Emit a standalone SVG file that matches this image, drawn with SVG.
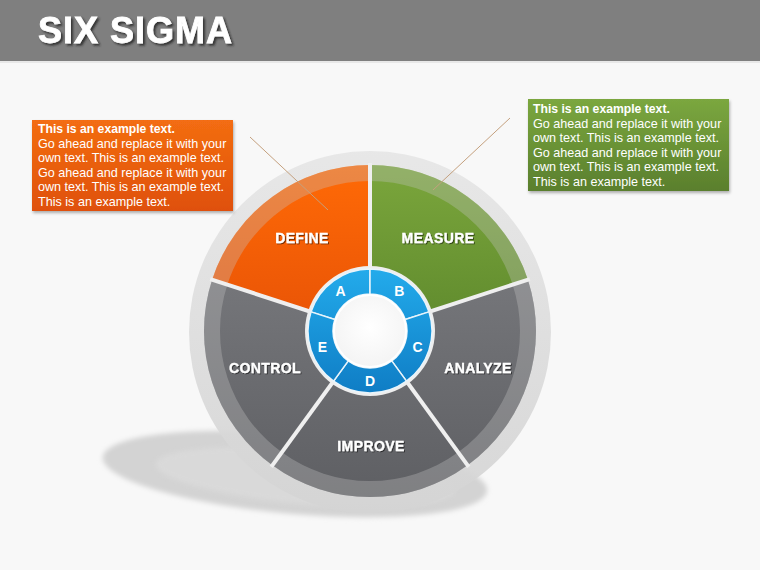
<svg xmlns="http://www.w3.org/2000/svg" width="760" height="570" viewBox="0 0 760 570">
<defs>
<style>
.title{font-family:"Liberation Sans",Arial,sans-serif;font-weight:bold;font-size:36px;fill:#fff;letter-spacing:1px;stroke:#fff;stroke-width:0.8}
.cb{font-family:"Liberation Sans",Arial,sans-serif;font-size:12.6px;fill:#fff}
.cb .b{font-weight:bold;font-size:12.2px}
.lbl{font-family:"Liberation Sans",Arial,sans-serif;font-weight:bold;font-size:14px;fill:#fff;text-anchor:middle;letter-spacing:0.4px;stroke:#fff;stroke-width:0.3}
.let{font-family:"Liberation Sans",Arial,sans-serif;font-weight:bold;font-size:14px;fill:#fff;text-anchor:middle}
.band{fill:#c8c8c8;fill-opacity:0.32}
.gap{stroke:#efefef;stroke-width:4;stroke-linecap:butt}
.hub{fill:url(#gBlue);stroke:#e8f4fb;stroke-width:1.5}
.lead{stroke:#c4a07e;stroke-width:1;fill:none}
</style>
<linearGradient id="gOrange" x1="0" y1="165" x2="0" y2="331" gradientUnits="userSpaceOnUse"><stop offset="0" stop-color="#ff6a06"/><stop offset="1" stop-color="#e85306"/></linearGradient>
<linearGradient id="gGreen" x1="0" y1="165" x2="0" y2="331" gradientUnits="userSpaceOnUse"><stop offset="0" stop-color="#7ba63c"/><stop offset="1" stop-color="#5f8a2d"/></linearGradient>
<linearGradient id="gGray" x1="0" y1="280" x2="0" y2="497" gradientUnits="userSpaceOnUse"><stop offset="0" stop-color="#75767a"/><stop offset="1" stop-color="#5e5f63"/></linearGradient>
<linearGradient id="gBlue" x1="0" y1="269" x2="0" y2="393" gradientUnits="userSpaceOnUse"><stop offset="0" stop-color="#23abeb"/><stop offset="1" stop-color="#0f7dc5"/></linearGradient>
<linearGradient id="gRing" x1="0" y1="151" x2="0" y2="513" gradientUnits="userSpaceOnUse"><stop offset="0" stop-color="#e6e6e6"/><stop offset="1" stop-color="#d4d4d4"/></linearGradient>
<linearGradient id="gBoxO" x1="0" y1="0" x2="0" y2="1"><stop offset="0" stop-color="#f36d12"/><stop offset="1" stop-color="#df500a"/></linearGradient>
<linearGradient id="gBoxG" x1="0" y1="0" x2="0" y2="1"><stop offset="0" stop-color="#7ba73f"/><stop offset="1" stop-color="#5a7f2d"/></linearGradient>
<radialGradient id="gHole" cx="0.5" cy="0.45" r="0.6"><stop offset="0" stop-color="#ffffff"/><stop offset="1" stop-color="#f3f3f3"/></radialGradient>
<filter id="ts" x="-10%" y="-30%" width="130%" height="160%"><feDropShadow dx="1" dy="1" stdDeviation="0.6" flood-color="#000" flood-opacity="0.55"/></filter>
<filter id="tts" x="-10%" y="-30%" width="130%" height="170%"><feDropShadow dx="2" dy="2" stdDeviation="1" flood-color="#222" flood-opacity="0.8"/></filter>
<filter id="bs" x="-10%" y="-10%" width="120%" height="130%"><feDropShadow dx="1" dy="2" stdDeviation="1.5" flood-color="#000" flood-opacity="0.3"/></filter>
<filter id="blur" x="-20%" y="-50%" width="140%" height="200%"><feGaussianBlur stdDeviation="2.5"/></filter>
</defs>

<rect width="760" height="570" fill="#f8f8f8"/>
<g id="title-bar">
<rect x="0" y="0" width="760" height="61" fill="#7f7f7f"/>
<rect x="0" y="61" width="760" height="2" fill="#e8e8e8"/>
<text class="title" x="38" y="43" filter="url(#tts)">SIX SIGMA</text>
</g>

<g id="shadow">
<ellipse cx="295" cy="474" rx="193" ry="40" transform="rotate(5 295 474)" fill="#d3d3d3" filter="url(#blur)"/>
<ellipse cx="305" cy="477" rx="150" ry="27" transform="rotate(5 305 477)" fill="#dedede" opacity="0.6" filter="url(#blur)"/>
</g>

<g id="outer-ring">
<circle cx="370" cy="332" r="181" fill="url(#gRing)" opacity="0.92"/>
</g>

<g id="seg-define">
<path d="M370,331 L212.12,279.70 A166,166 0 0 1 370,165 Z" fill="url(#gOrange)"/>
<path class="band" d="M212.12,279.70 A166,166 0 0 1 370,165 L370,181 A150,150 0 0 0 227.34,284.65 Z"/>
<text class="lbl" x="302" y="243" filter="url(#ts)">DEFINE</text>
</g>
<g id="seg-measure">
<path d="M370,331 L370,165 A166,166 0 0 1 527.88,279.70 Z" fill="url(#gGreen)"/>
<path class="band" d="M370,165 A166,166 0 0 1 527.88,279.70 L512.66,284.65 A150,150 0 0 0 370,181 Z"/>
<text class="lbl" x="438" y="243" filter="url(#ts)">MEASURE</text>
</g>
<g id="seg-analyze">
<path d="M370,331 L527.88,279.70 A166,166 0 0 1 467.57,465.30 Z" fill="url(#gGray)"/>
<path class="band" d="M527.88,279.70 A166,166 0 0 1 467.57,465.30 L458.17,452.35 A150,150 0 0 0 512.66,284.65 Z"/>
<text class="lbl" x="478" y="373" filter="url(#ts)">ANALYZE</text>
</g>
<g id="seg-improve">
<path d="M370,331 L467.57,465.30 A166,166 0 0 1 272.43,465.30 Z" fill="url(#gGray)"/>
<path class="band" d="M467.57,465.30 A166,166 0 0 1 272.43,465.30 L281.83,452.35 A150,150 0 0 0 458.17,452.35 Z"/>
<text class="lbl" x="371" y="451" filter="url(#ts)">IMPROVE</text>
</g>
<g id="seg-control">
<path d="M370,331 L272.43,465.30 A166,166 0 0 1 212.12,279.70 Z" fill="url(#gGray)"/>
<path class="band" d="M272.43,465.30 A166,166 0 0 1 212.12,279.70 L227.34,284.65 A150,150 0 0 0 281.83,452.35 Z"/>
<text class="lbl" x="265" y="373" filter="url(#ts)">CONTROL</text>
</g>

<g id="dividers">
<line class="gap" x1="370" y1="331" x2="370" y2="163"/>
<line class="gap" x1="370" y1="331" x2="529.78" y2="279.08"/>
<line class="gap" x1="370" y1="331" x2="468.75" y2="466.92"/>
<line class="gap" x1="370" y1="331" x2="271.25" y2="466.92"/>
<line class="gap" x1="370" y1="331" x2="210.22" y2="279.08"/>
</g>

<g id="hub-border">
<circle cx="370" cy="331" r="65" fill="#eeeeee"/>
</g>
<g id="hub-A">
<path class="hub" d="M311.03,311.84 A62,62 0 0 1 370,269 L370,294 A37,37 0 0 0 334.81,319.57 Z"/>
<text class="let" x="340.6" y="295.5">A</text>
</g>
<g id="hub-B">
<path class="hub" d="M370,269 A62,62 0 0 1 428.97,311.84 L405.19,319.57 A37,37 0 0 0 370,294 Z"/>
<text class="let" x="399.4" y="295.5">B</text>
</g>
<g id="hub-C">
<path class="hub" d="M428.97,311.84 A62,62 0 0 1 406.44,381.16 L391.75,360.93 A37,37 0 0 0 405.19,319.57 Z"/>
<text class="let" x="417.6" y="351.5">C</text>
</g>
<g id="hub-D">
<path class="hub" d="M406.44,381.16 A62,62 0 0 1 333.56,381.16 L348.25,360.93 A37,37 0 0 0 391.75,360.93 Z"/>
<text class="let" x="370" y="386">D</text>
</g>
<g id="hub-E">
<path class="hub" d="M333.56,381.16 A62,62 0 0 1 311.03,311.84 L334.81,319.57 A37,37 0 0 0 348.25,360.93 Z"/>
<text class="let" x="322.4" y="351.5">E</text>
</g>
<g id="hub-center">
<circle cx="370" cy="331" r="36" fill="url(#gHole)" stroke="#ffffff" stroke-width="2"/>
</g>

<g id="connectors">
<line class="lead" x1="250" y1="137" x2="328" y2="210"/>
<line class="lead" x1="510" y1="118" x2="433" y2="190"/>
</g>

<g id="callout-left">
<rect x="32" y="120" width="201" height="91" fill="url(#gBoxO)" filter="url(#bs)"/>
<text class="cb" x="38"><tspan class="b" x="38" y="133">This is an example text.</tspan><tspan x="38" y="147.5">Go ahead and replace it with your</tspan><tspan x="38" y="162">own text. This is an example text.</tspan><tspan x="38" y="176.5">Go ahead and replace it with your</tspan><tspan x="38" y="191">own text. This is an example text.</tspan><tspan x="38" y="205.5">This is an example text.</tspan></text>
</g>

<g id="callout-right">
<rect x="528" y="99" width="201" height="92" fill="url(#gBoxG)" filter="url(#bs)"/>
<text class="cb" x="533"><tspan class="b" x="533" y="113">This is an example text.</tspan><tspan x="533" y="127.5">Go ahead and replace it with your</tspan><tspan x="533" y="142">own text. This is an example text.</tspan><tspan x="533" y="156.5">Go ahead and replace it with your</tspan><tspan x="533" y="171">own text. This is an example text.</tspan><tspan x="533" y="185.5">This is an example text.</tspan></text>
</g>
</svg>
